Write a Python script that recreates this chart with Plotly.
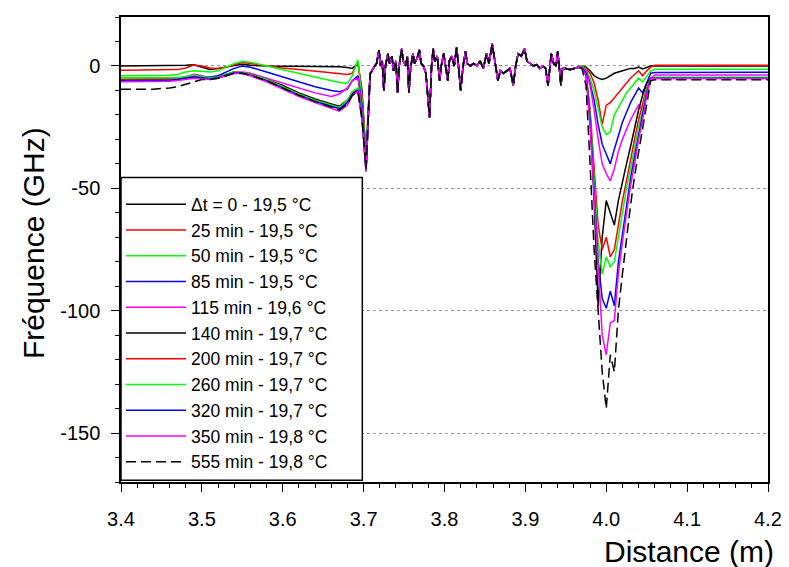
import plotly.graph_objects as go

# ---------------- data ----------------
labels = ["\u0394t = 0 - 19,5 \u00b0C", "25 min - 19,5 \u00b0C", "50 min - 19,5 \u00b0C",
          "85 min - 19,5 \u00b0C", "115 min - 19,6 \u00b0C", "140 min - 19,7 \u00b0C",
          "200 min - 19,7 \u00b0C", "260 min - 19,7 \u00b0C", "320 min - 19,7 \u00b0C",
          "350 min - 19,8 \u00b0C", "555 min - 19,8 \u00b0C"]
colors = ["#000000", "#ff0000", "#00ff00", "#0000ff", "#ff00ff",
          "#000000", "#ff0000", "#00ff00", "#0000ff", "#ff00ff", "#000000"]
dashes = ["solid"] * 10 + ["10px,5px"]

# segment A: 3.40 - 3.708 (per series)
xa = [3.40, 3.42, 3.44, 3.46, 3.47, 3.48, 3.49, 3.50, 3.51, 3.52, 3.53, 3.54, 3.55,
      3.56, 3.58, 3.60, 3.62, 3.64, 3.66, 3.67, 3.68, 3.686, 3.693, 3.698, 3.703, 3.708]
a_0   = [0, 0, 0, 0, 0, 0.3, 0.5, -0.5, -1.4, -1, -0.3, 0.2, 0.7, 0.3, 0, 0, 0, 0, -0.2, -0.3, -0.6, -1, 1, -10, -38, -3]
a_25  = [-1.8, -1.8, -1.8, -1.6, -1.5, -0.8, 0.4, 0, -0.8, -1, -0.5, 0.5, 1.4, 1, 0, -0.8, -1.5, -2.2, -2.8, -3.2, -3.5, -3, 2, -12, -36, -3]
a_50  = [-4, -4, -4, -3.8, -3.5, -2.5, -2, -2.2, -2.5, -2, -0.5, 1, 1.8, 1.5, 0, -1.5, -3, -4.5, -6, -6.8, -7.2, -4, 2.5, -14, -37, -3]
a_85  = [-5.5, -5.5, -5.3, -5.2, -5, -4.5, -4, -4.3, -4.5, -4, -2.5, -1, 0, -0.5, -2.5, -4.5, -6.5, -8.5, -10, -10.5, -9.5, -6, -4, -16, -40, -3]
a_115 = [-6, -6, -6, -5.8, -5.5, -4.5, -3.4, -4, -5, -4.5, -3.5, -2.5, -2.5, -3, -5, -7, -9, -11, -12.5, -11.5, -9, -6, -5, -18, -42, -3]
a_140 = [-5, -5, -5, -5, -5, -4.5, -4, -4.3, -5, -4.5, -3.5, -2.5, -3, -3.5, -5.5, -8, -11, -13.5, -15.5, -16.5, -14, -11, -9.5, -20, -43, -3.5]
a_200 = [-5.5, -5.5, -5.5, -5.3, -5, -4.5, -4, -4.5, -5, -4.5, -3.5, -2.5, -3, -3.5, -5.5, -8.5, -11.5, -14, -16, -17, -14.5, -11, -9.5, -20, -43, -3.5]
a_260 = [-5, -5, -5, -5, -4.8, -4.3, -3.8, -4.3, -4.8, -4.5, -3.5, -2.5, -2.8, -3.5, -5.5, -8.5, -11.5, -14, -16, -17, -14, -10.5, -9, -20, -43, -3.5]
a_320 = [-6, -6, -6, -5.8, -5.5, -5, -4.5, -4.8, -5.2, -4.8, -3.8, -2.8, -3, -3.8, -6, -9, -12, -14.5, -16.5, -17.5, -15, -11.5, -10, -21, -43, -3.5]
a_350 = [-6.5, -6.5, -6.5, -6.3, -6, -5.5, -5, -5.2, -5.5, -5, -4, -3, -3.2, -4, -6.5, -9.5, -12.5, -15, -17.5, -18.5, -16, -12, -10.5, -22, -43, -3.5]
a_555 = [-9.5, -9.5, -9.5, -9, -8.5, -7.5, -6.5, -5.5, -5.5, -5, -4, -3, -3, -3.8, -6, -9, -12, -14.5, -17, -18, -15.5, -12, -10.5, -22, -42, -3.5]

# segment B: 3.712 - 3.965 (all series overlap)
xb = [3.712, 3.716, 3.719, 3.721, 3.723, 3.725, 3.727, 3.730, 3.732, 3.735, 3.737, 3.740,
      3.742, 3.744, 3.747, 3.749, 3.752, 3.754, 3.756, 3.758, 3.761, 3.763, 3.766, 3.769,
      3.771, 3.774, 3.777, 3.7815, 3.784, 3.786, 3.788, 3.791, 3.794, 3.796, 3.799, 3.801,
      3.804, 3.806, 3.809, 3.812, 3.815, 3.817, 3.820, 3.823, 3.826, 3.828, 3.832, 3.836,
      3.840, 3.844, 3.848, 3.852, 3.855, 3.859, 3.862, 3.866, 3.869, 3.873, 3.877, 3.881,
      3.885, 3.888, 3.891, 3.895, 3.899, 3.902, 3.906, 3.910, 3.914, 3.918, 3.922, 3.925,
      3.928, 3.930, 3.932, 3.935, 3.938, 3.940, 3.942, 3.944, 3.946, 3.950, 3.955, 3.960, 3.965]
yb = [-1, 1, 6.5, 0, 2, -10, 0, 5, 1, 4, -2, 2,
      -11, 0, 7, 2, 0, 4, -11, -1, 5, 1, 3, 6.5,
      1, 0, -3, -21, 0, 7, 2, 4, -6, 0, 5, 1,
      -6, 2, 4, 0, 7.5, 1, -10, 0, 6, 1, 0, 1,
      0, 2, -1, 5, 1, 9, 2, -6, -2, -3, -2, -1,
      -8, 0, 5, 4, 7, 2, 1, 0, 0.5, -1, 0, -1,
      -8, 0, 5, 1, 0, 6, 0, -8, -1, -1, -1.5, -1, -0.5]

# segment C: the dip 3.97 - 4.06 (per series)
xc = [3.970, 3.975, 3.980, 3.985, 3.990, 3.995, 4.000, 4.005, 4.010, 4.015,
      4.020, 4.025, 4.030, 4.035, 4.040, 4.045, 4.050, 4.055, 4.060]
c_0   = [0, -0.5, -2, -4, -5, -5.5, -5, -4, -3, -2.5, -2, -1.5, -1, -1, -0.5, -1.2, -0.5, 0, 0]
c_25  = [0, -1, -3, -7, -14, -24, -16, -15, -13, -11, -9, -7, -5, -3.5, -2, -4, -2, -0.5, 0.3]
c_50  = [0, -1.5, -5, -10, -18, -25, -28, -27, -20, -17, -14, -11, -9, -7, -5, -6.5, -4, -2, -1.4]
c_85  = [-0.5, -2, -7, -14, -24, -32, -36, -40, -34, -28, -23, -19, -15, -12, -9, -11, -7, -3, -2.7]
c_115 = [-0.5, -2, -8, -18, -30, -40, -44, -47, -42, -35, -30, -26, -22, -19, -16, -18, -12, -5, -3.7]
c_140 = [-1, -3, -20, -55, -98, -70, -55, -60, -65, -55, -47, -40, -33, -25, -18, -12, -7, -5, -5]
c_200 = [-1, -3, -18, -40, -65, -75, -70, -78, -75, -65, -55, -47, -38, -30, -22, -16, -9, -5, -4.8]
c_260 = [-1, -3, -20, -45, -72, -85, -78, -82, -80, -70, -60, -50, -42, -33, -25, -18, -10, -5, -4.6]
c_320 = [-1, -3, -22, -50, -80, -95, -99, -92, -98, -80, -68, -57, -46, -37, -28, -20, -11, -5, -5]
c_350 = [-1, -4, -25, -55, -85, -110, -118, -105, -104, -85, -72, -60, -49, -40, -30, -22, -12, -5, -5.2]
c_555 = [-1, -8, -40, -75, -100, -125, -140, -118, -125, -100, -85, -70, -57, -45, -35, -25, -15, -6, -5.6]

# tail: 4.065 - 4.20 (per series)
xt = [4.065, 4.10, 4.15, 4.20]
t_0   = [0, 0, 0, 0]
t_25  = [0.3, 0.3, 0.4, 0.3]
t_50  = [-1.4, -1.3, -1.4, -1.3]
t_85  = [-2.7, -2.6, -2.7, -2.6]
t_115 = [-3.7, -3.6, -3.7, -3.7]
t_140 = [-5, -5, -5.1, -5]
t_200 = [-4.8, -4.8, -4.9, -4.8]
t_260 = [-4.6, -4.5, -4.6, -4.6]
t_320 = [-5, -4.9, -5, -5]
t_350 = [-5.2, -5.1, -5.2, -5.2]
t_555 = [-5.6, -5.6, -5.6, -5.6]

seg_a = [a_0, a_25, a_50, a_85, a_115, a_140, a_200, a_260, a_320, a_350, a_555]
seg_c = [c_0, c_25, c_50, c_85, c_115, c_140, c_200, c_260, c_320, c_350, c_555]
seg_t = [t_0, t_25, t_50, t_85, t_115, t_140, t_200, t_260, t_320, t_350, t_555]

x_ticks = [3.4, 3.5, 3.6, 3.7, 3.8, 3.9, 4.0, 4.1, 4.2]
y_ticks = [0, -50, -100, -150]
y_tick_text = ["0", "-50", "-100", "-150"]

# ---------------- figure ----------------
FONT = "Arial, 'Liberation Sans', sans-serif"
fig = go.Figure()
x_all = xa + xb + xc + xt
for i in range(len(labels)):
    y_all = seg_a[i] + yb + seg_c[i] + seg_t[i]
    fig.add_trace(go.Scatter(x=x_all, y=y_all, mode="lines", name=labels[i],
                             line=dict(color=colors[i], width=1.5, dash=dashes[i])))

# the page body has an 8px default margin, so the figure is 8px smaller
fig.update_layout(
    width=781, height=559,
    margin=dict(l=113, r=16, t=7, b=85),
    paper_bgcolor="white", plot_bgcolor="white",
    font=dict(family=FONT, size=20, color="black"),
    showlegend=True,
    legend=dict(x=0, y=0.636, xanchor="left", yanchor="top",
                bgcolor="rgba(0,0,0,0)", borderwidth=0,
                font=dict(family=FONT, size=17.5, color="black"),
                tracegroupgap=0, itemwidth=60),
    shapes=[dict(type="rect", xref="paper", yref="paper",
                 x0=0, x1=0.373, y0=0.004, y1=0.655,
                 fillcolor="white", line=dict(color="black", width=1.5),
                 layer="above")],
)
fig.update_xaxes(range=[3.4, 4.2], tickvals=x_ticks, tickformat=".1f",
                 ticks="outside", ticklen=8, tickwidth=1.3, tickcolor="black",
                 showline=True, linecolor="black", linewidth=1.5, mirror=True,
                 showgrid=False, zeroline=False, ticklabelstandoff=10,
                 tickfont=dict(family=FONT, size=20),
                 minor=dict(dtick=0.02, tick0=3.4, ticks="outside", ticklen=4,
                            tickcolor="black", tickwidth=1, showgrid=False))
fig.update_yaxes(range=[-170, 20], tickvals=y_ticks, ticktext=y_tick_text,
                 ticks="outside", ticklen=8, tickwidth=1.3, tickcolor="black",
                 showline=True, linecolor="black", linewidth=1.5, mirror=True,
                 showgrid=True, gridcolor="#8c96a8", griddash="dot", gridwidth=1,
                 zeroline=False, ticklabelstandoff=7,
                 tickfont=dict(family=FONT, size=20),
                 minor=dict(dtick=10, tick0=0, ticks="outside", ticklen=4,
                            tickcolor="black", tickwidth=1, showgrid=False))

fig.add_annotation(text="Fr\u00e9quence (GHz)", xref="paper", yref="paper",
                   x=-0.135, y=0.513, textangle=-90, showarrow=False,
                   xanchor="center", yanchor="middle",
                   font=dict(family=FONT, size=30, color="black"))
fig.add_annotation(text="Distance (m)", xref="paper", yref="paper",
                   x=1.012, y=-0.15, showarrow=False, xanchor="right", yanchor="middle",
                   font=dict(family=FONT, size=30, color="black"))

fig.write_html("out.html")
